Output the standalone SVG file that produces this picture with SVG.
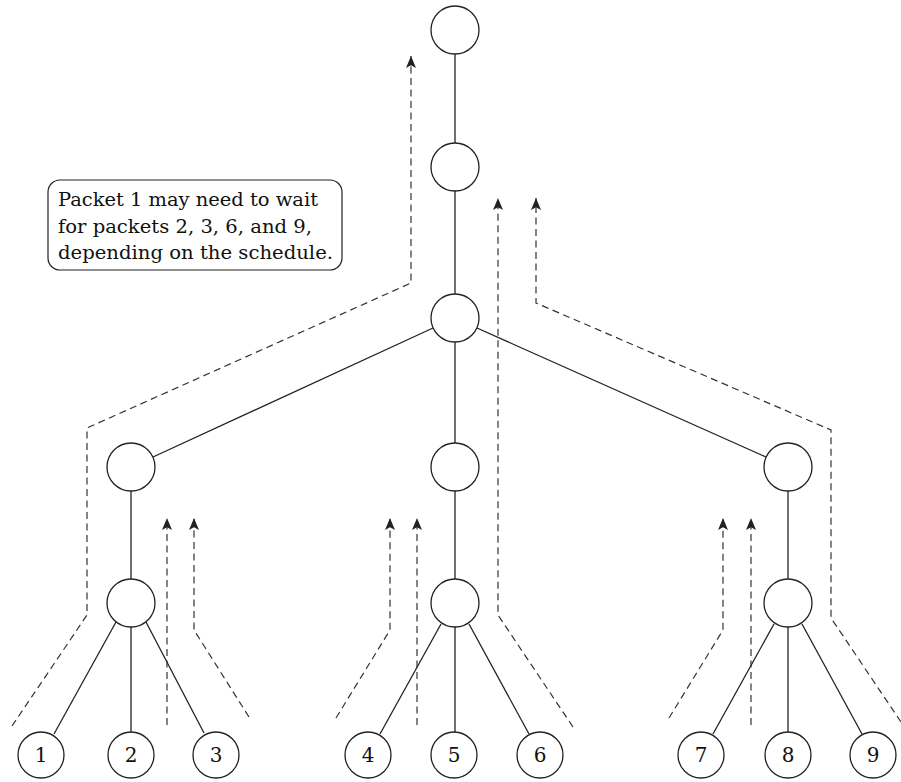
<svg xmlns="http://www.w3.org/2000/svg" width="901" height="782" viewBox="0 0 901 782">
<style>
.n{fill:#fff;stroke:#222;stroke-width:1.3}
.e{stroke:#222;stroke-width:1.3;fill:none}
.d{stroke:#333;stroke-width:1.2;fill:none;stroke-dasharray:7,4.5}
.t{font-family:"DejaVu Serif","Liberation Serif",serif;font-size:19px;fill:#111}
.lb{font-family:"DejaVu Serif","Liberation Serif",serif;font-size:20px;fill:#111;text-anchor:middle}
</style>
<defs>
<marker id="ah" markerWidth="13" markerHeight="11" refX="12" refY="5.5" orient="auto" markerUnits="userSpaceOnUse">
<path d="M0,0.5 L12,5.5 L0,10.5 L2.8,5.5 Z" fill="#222"/>
</marker>
</defs>
<rect width="901" height="782" fill="#fff"/>
<g id="edges">
<line class="e" x1="455" y1="54" x2="455" y2="143"/>
<line class="e" x1="455" y1="191" x2="455" y2="294"/>
<line class="e" x1="455" y1="342" x2="455" y2="443"/>
<line class="e" x1="433" y1="328" x2="153" y2="457"/>
<line class="e" x1="477" y1="328" x2="766" y2="457"/>
<line class="e" x1="131" y1="491" x2="131" y2="579"/>
<line class="e" x1="455" y1="491" x2="455" y2="579"/>
<line class="e" x1="788" y1="491" x2="788" y2="579"/>
<line class="e" x1="116" y1="622" x2="54" y2="734"/>
<line class="e" x1="131" y1="627" x2="131" y2="732"/>
<line class="e" x1="146" y1="622" x2="204" y2="733"/>
<line class="e" x1="441" y1="624" x2="380" y2="734"/>
<line class="e" x1="455" y1="627" x2="455" y2="732"/>
<line class="e" x1="469" y1="624" x2="529" y2="734"/>
<line class="e" x1="774" y1="624" x2="713" y2="734"/>
<line class="e" x1="788" y1="627" x2="788" y2="732"/>
<line class="e" x1="802" y1="624" x2="862" y2="734"/>
</g>
<g id="paths">
<polyline class="d" points="12,726 87,615 87,428 411,283 411,56" marker-end="url(#ah)"/>
<polyline class="d" points="573,727 498,615 498,198" marker-end="url(#ah)"/>
<polyline class="d" points="901,722 831,618 831,430 536,303 536,198" marker-end="url(#ah)"/>
<polyline class="d" points="167,725 167,518" marker-end="url(#ah)"/>
<polyline class="d" points="249,717 194,630 194,518" marker-end="url(#ah)"/>
<polyline class="d" points="336,718 390,630 390,518" marker-end="url(#ah)"/>
<polyline class="d" points="417,725 417,518" marker-end="url(#ah)"/>
<polyline class="d" points="669,718 723,630 723,518" marker-end="url(#ah)"/>
<polyline class="d" points="751,725 751,518" marker-end="url(#ah)"/>
</g>
<g id="n0"><circle class="n" cx="455" cy="30" r="24"/></g>
<g id="n1"><circle class="n" cx="455" cy="167" r="24"/></g>
<g id="n2"><circle class="n" cx="455" cy="318" r="24"/></g>
<g id="n3"><circle class="n" cx="131" cy="467" r="24"/></g>
<g id="n4"><circle class="n" cx="455" cy="467" r="24"/></g>
<g id="n5"><circle class="n" cx="788" cy="467" r="24"/></g>
<g id="n6"><circle class="n" cx="131" cy="603" r="24"/></g>
<g id="n7"><circle class="n" cx="455" cy="603" r="24"/></g>
<g id="n8"><circle class="n" cx="788" cy="603" r="24"/></g>
<g id="leaf1"><circle class="n" cx="41" cy="755" r="23"/><text class="lb" x="41" y="762">1</text></g>
<g id="leaf2"><circle class="n" cx="131" cy="755" r="23"/><text class="lb" x="131" y="762">2</text></g>
<g id="leaf3"><circle class="n" cx="216" cy="755" r="23"/><text class="lb" x="216" y="762">3</text></g>
<g id="leaf4"><circle class="n" cx="368" cy="755" r="23"/><text class="lb" x="368" y="762">4</text></g>
<g id="leaf5"><circle class="n" cx="454" cy="755" r="23"/><text class="lb" x="454" y="762">5</text></g>
<g id="leaf6"><circle class="n" cx="540" cy="755" r="23"/><text class="lb" x="540" y="762">6</text></g>
<g id="leaf7"><circle class="n" cx="701" cy="755" r="23"/><text class="lb" x="701" y="762">7</text></g>
<g id="leaf8"><circle class="n" cx="788" cy="755" r="23"/><text class="lb" x="788" y="762">8</text></g>
<g id="leaf9"><circle class="n" cx="873" cy="755" r="23"/><text class="lb" x="873" y="762">9</text></g>
<g id="note">
<rect x="48" y="180" width="294" height="90" rx="12" ry="12" fill="#fff" stroke="#222" stroke-width="1.2"/>
<text class="t" x="58" y="206" textLength="260" lengthAdjust="spacingAndGlyphs">Packet 1 may need to wait</text>
<text class="t" x="58" y="233" textLength="254" lengthAdjust="spacingAndGlyphs">for packets 2, 3, 6, and 9,</text>
<text class="t" x="58" y="259" textLength="275" lengthAdjust="spacingAndGlyphs">depending on the schedule.</text>
</g>
</svg>
